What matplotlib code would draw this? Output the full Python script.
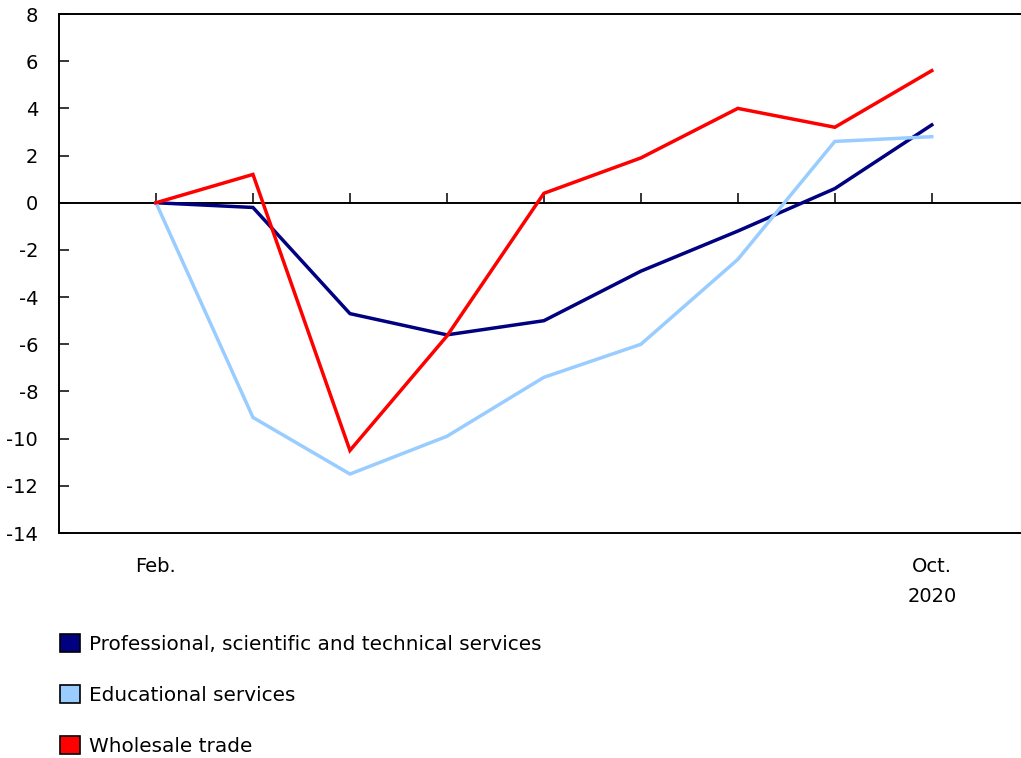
import matplotlib
matplotlib.use('Agg')
import matplotlib.pyplot as plt
from matplotlib.patches import Patch

months = ['Feb.', 'Mar.', 'Apr.', 'May', 'June', 'July', 'Aug.', 'Sep.', 'Oct.']
professional = [0.0, -0.2, -4.7, -5.6, -5.0, -2.9, -1.2, 0.6, 3.3]
educational = [0.0, -9.1, -11.5, -9.9, -7.4, -6.0, -2.4, 2.6, 2.8]
wholesale = [0.0, 1.2, -10.5, -5.65, 0.4, 1.9, 4.0, 3.2, 5.6]

series = [
    ('Professional, scientific and technical services', professional, '#000080'),
    ('Educational services', educational, '#99CCFF'),
    ('Wholesale trade', wholesale, '#FF0000'),
]

plt.rcParams['font.family'] = ['DejaVu Sans']
plt.rcParams['font.size'] = 14
plt.rcParams['axes.unicode_minus'] = False

fig = plt.figure(figsize=(10.21, 7.58), dpi=100)
ax = fig.add_axes([0.0578, 0.2968, 0.9422, 0.6847])

x = list(range(len(months)))
for name, vals, col in series:
    ax.plot(x, vals, color=col, lw=2.5, solid_joinstyle='miter', zorder=3)

ax.set_xlim(-1, 8.92)
ax.set_ylim(-14, 8)
ax.set_yticks(range(-14, 9, 2))
ax.tick_params(axis='y', direction='in', length=7, width=1.1, pad=15)

# month ticks sit on the zero line
zero_axis = ax.secondary_xaxis(0, transform=ax.transData)
zero_axis.set_xticks(x)
zero_axis.set_xticklabels([])
zero_axis.tick_params(direction='in', length=7, width=1.1)
zero_axis.spines['bottom'].set_linewidth(1.4)

labels = [''] * len(months)
labels[0] = months[0]
labels[-1] = months[-1] + '\n2020'
ax.set_xticks(x)
ax.set_xticklabels(labels, linespacing=1.75, va='top')
ax.tick_params(axis='x', length=0, pad=17)

for side in ['left', 'top', 'bottom']:
    ax.spines[side].set_linewidth(1.4)
ax.spines['right'].set_visible(False)

handles = [Patch(facecolor=col, edgecolor='black', lw=1.2, label=name)
           for name, vals, col in series]
fig.legend(handles=handles, loc='upper left', bbox_to_anchor=(0.059, 0.163),
           frameon=False, fontsize=14.4, handlelength=1.0, handleheight=1.0,
           handletextpad=0.42, labelspacing=1.55, borderaxespad=0, borderpad=0)

fig.savefig('out.png', dpi=100)
